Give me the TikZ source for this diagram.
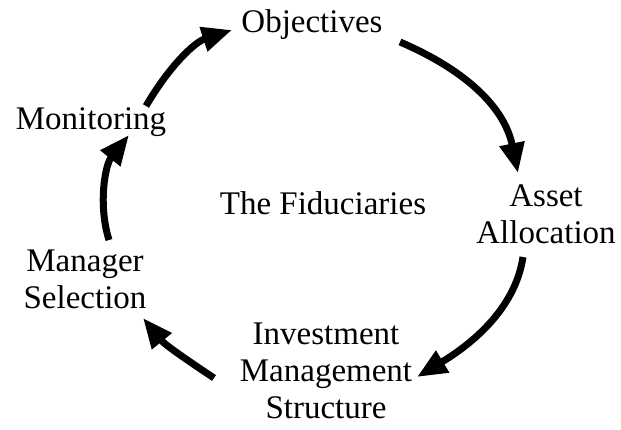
\documentclass[tikz,border=0pt]{standalone}
\usepackage{fontspec}
\setmainfont{Liberation Serif}
\usetikzlibrary{arrows.meta}
\begin{document}
\begin{tikzpicture}[x=1pt,y=-1pt,
  lbl/.style={inner sep=0pt,font=\fontsize{33}{37}\selectfont,align=center},
  cyc/.style={line width=7pt,-{Triangle[length=30pt,width=24pt]}}]
\useasboundingbox (0,0) rectangle (621,429);
\node[lbl,anchor=base] (obj) at (312,32) {Objectives};
\node[lbl,anchor=base] (mon) at (91,129) {Monitoring};
\node[lbl,anchor=base] (fid) at (323,214) {The Fiduciaries};
\node[lbl,anchor=north] (aa) at (546,185) {Asset\\Allocation};
\node[lbl,anchor=north] (ms) at (85,250) {Manager\\Selection};
\node[lbl,anchor=north] (ims) at (326,323) {Investment\\Management\\Structure};
\coordinate (a1s) at (146,106);
\coordinate (a1e) at (232,30);
\coordinate (a2s) at (400,42);
\coordinate (a2e) at (518,173);
\coordinate (a3s) at (523,257);
\coordinate (a3e) at (417,377);
\coordinate (a4s) at (214,378);
\coordinate (a4e) at (143,318);
\coordinate (a5s) at (109,240);
\coordinate (a5e) at (129,135);
\draw[cyc] (a1s) .. controls (170,65) and (195,42) .. (a1e);
\draw[cyc] (a2s) .. controls (470,72) and (505,110) .. (a2e);
\draw[cyc] (a3s) .. controls (515,310) and (470,345) .. (a3e);
\draw[cyc] (a4s) .. controls (190,362) and (165,345) .. (a4e);
\draw[cyc] (a5s) .. controls (98,205) and (105,165) .. (a5e);
\end{tikzpicture}
\end{document}
